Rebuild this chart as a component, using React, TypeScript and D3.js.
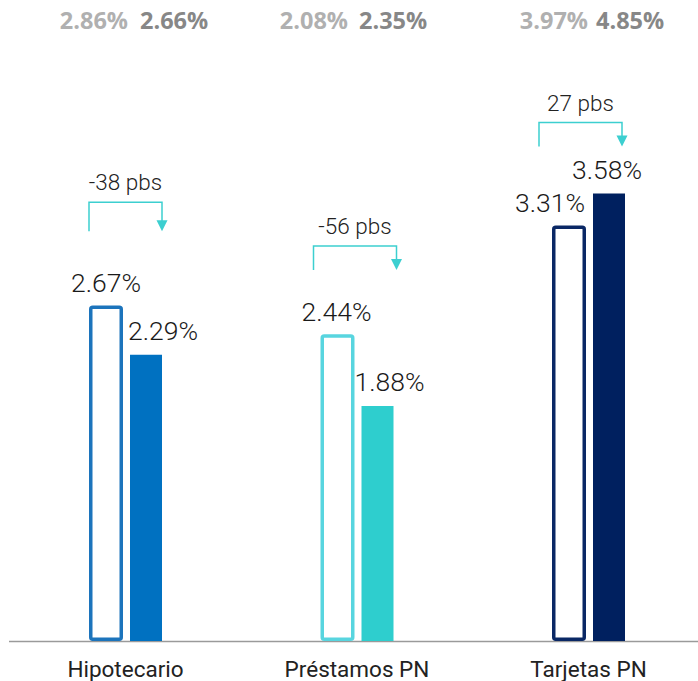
import React from "react";
import * as d3 from "d3";

// ---- data ----
const categories = ["Hipotecario", "Préstamos PN", "Tarjetas PN"];
const prevValues = [2.67, 2.44, 3.31];
const currValues = [2.29, 1.88, 3.58];
const changeLabels = ["-38 pbs", "-56 pbs", "27 pbs"];
const topPrev = [2.86, 2.08, 3.97];
const topCurr = [2.66, 2.35, 4.85];

// ---- styles ----
const outlineColors = ["#1c74bc", "#58d5df", "#0a2865"];
const fillColors = ["#0071c1", "#2ecece", "#00205f"];
const arrowColor = "#3ccfd0";

// ---- layout offsets (px) ----
const prevLabelDx = [0, -1, -19];
const currLabelDx = [17, 12, -2];
const bracketLeftDx = [0, -7, -13];
const bracketRightDx = [0, 3, -3];
const bracketAbove = [105, 90, 71];
const bracketHeight = [29, 24, 24];
const topMidDx = [8.5, -3.5, 3.5];
const topGap = [6, 5.5, 4];

const W = 698;
const H = 681;

export default function App() {
  const x = d3.scaleBand<string>().domain(categories).range([9.75, 704.25]).padding(0);
  const y = d3.scaleLinear().domain([0, 5]).range([641, 16]);
  const fmt = (v: number) => d3.format(".2f")(v) + "%";
  const sw = 3.5;

  return (
    <svg
      width={W}
      height={H}
      style={{ position: "absolute", left: 0, top: 0, background: "#fff" }}
      fontFamily="Roboto, 'Noto Sans', sans-serif"
    >
      {/* axis line */}
      <line x1={9} x2={698} y1={641.5} y2={641.5} stroke="#9a9a9a" strokeWidth={1.5} />

      {categories.map((c, i) => {
        const cx = (x(c) as number) + x.bandwidth() / 2;
        const oL = cx - 36.5;
        const oR = cx - 2.5;
        const fL = cx + 4.5;
        const fR = cx + 36.5;
        const yPrev = y(prevValues[i]);
        const yCurr = y(currValues[i]);
        const topBar = Math.min(yPrev, yCurr);
        const bTop = topBar - bracketAbove[i];
        const bBot = bTop + bracketHeight[i];
        const bL = oL + bracketLeftDx[i];
        const bR = fR + bracketRightDx[i];
        const topMid = cx + topMidDx[i];
        return (
          <g key={c}>
            {/* top comparison values */}
            <text
              x={topMid - topGap[i]}
              y={29}
              textAnchor="end"
              fontFamily="'Open Sans', sans-serif"
              fontWeight={700}
              fontSize={23.5}
              fill="#b0b0b0"
            >
              {fmt(topPrev[i])}
            </text>
            <text
              x={topMid + topGap[i]}
              y={29}
              textAnchor="start"
              fontFamily="'Open Sans', sans-serif"
              fontWeight={700}
              fontSize={23.5}
              fill="#878787"
            >
              {fmt(topCurr[i])}
            </text>

            {/* bracket annotation */}
            <path
              d={`M${bL},${bBot} V${bTop} H${bR} V${bBot - 9}`}
              fill="none"
              stroke={arrowColor}
              strokeWidth={1.5}
            />
            <path
              d={`M${bR - 5.5},${bBot - 11} L${bR + 5.5},${bBot - 11} L${bR},${bBot} Z`}
              fill={arrowColor}
            />
            <text
              x={(bL + bR) / 2}
              y={bTop - 12}
              textAnchor="middle"
              fontSize={22.5}
              fontWeight={300}
              fill="#222"
            >
              {changeLabels[i]}
            </text>

            {/* previous (outline) bar */}
            <rect
              x={oL + sw / 2}
              y={yPrev}
              width={oR - oL - sw}
              height={y(0) - yPrev - sw / 2}
              rx={2}
              fill="#fff"
              stroke={outlineColors[i]}
              strokeWidth={sw}
            />
            {/* current (filled) bar */}
            <rect x={fL} y={yCurr} width={fR - fL} height={y(0) - yCurr} fill={fillColors[i]} />

            {/* value labels */}
            <text
              x={(oL + oR) / 2 + prevLabelDx[i]}
              y={yPrev - 15}
              textAnchor="middle"
              fontSize={26.5}
              fontWeight={300}
              fill="#1a1a1a"
            >
              {fmt(prevValues[i])}
            </text>
            <text
              x={(fL + fR) / 2 + currLabelDx[i]}
              y={yCurr - 15}
              textAnchor="middle"
              fontSize={26.5}
              fontWeight={300}
              fill="#1a1a1a"
            >
              {fmt(currValues[i])}
            </text>

            {/* category label */}
            <text x={cx} y={677} textAnchor="middle" fontSize={22.5} fontWeight={400} fill="#222">
              {c}
            </text>
          </g>
        );
      })}
    </svg>
  );
}
